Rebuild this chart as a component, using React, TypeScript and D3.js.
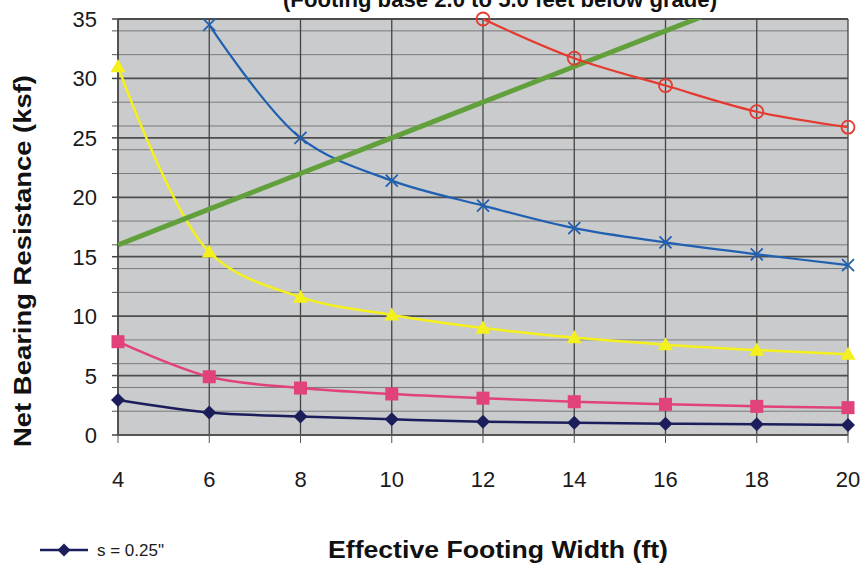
import React from "react";
import * as d3 from "d3";

const widths = [4, 6, 8, 10, 12, 14, 16, 18, 20];
const s025 = [2.95, 1.9, 1.55, 1.32, 1.12, 1.04, 0.95, 0.9, 0.85];
const s050 = [7.85, 4.9, 3.95, 3.45, 3.1, 2.8, 2.58, 2.41, 2.3];
const s100 = [31.0, 15.4, 11.6, 10.1, 9.0, 8.2, 7.6, 7.15, 6.8];
const s200x = [6, 8, 10, 12, 14, 16, 18, 20];
const s200 = [34.5, 25.0, 21.4, 19.3, 17.4, 16.2, 15.2, 14.3];
const s400x = [12, 14, 16, 18, 20];
const s400 = [35.0, 31.7, 29.4, 27.2, 25.9];
const limitX = [4, 6, 8, 10, 12, 14, 16, 18, 20];
const limitY = [16, 19, 22, 25, 28, 31, 34, 37, 40];
const yMajor = [0, 5, 10, 15, 20, 25, 30, 35];
const yMinor = [2, 4, 6, 8, 12, 14, 16, 18, 22, 24, 26, 28, 32, 34];
const xTicks = [4, 6, 8, 10, 12, 14, 16, 18, 20];

const W = 867;
const H = 572;
const L = 118, R = 848, T = 19, B = 435;
const FONT = "'Liberation Sans', Arial, Helvetica, sans-serif";

export default function App() {
  const x = d3.scaleLinear().domain([4, 20]).range([L, R]);
  const y = d3.scaleLinear().domain([0, 35]).range([B, T]);
  const smooth = d3
    .line<[number, number]>()
    .x((d) => x(d[0]))
    .y((d) => y(d[1]))
    .curve(d3.curveCatmullRom.alpha(0.5));
  const straight = d3
    .line<[number, number]>()
    .x((d) => x(d[0]))
    .y((d) => y(d[1]));
  const zip = (xs: number[], ys: number[]) =>
    xs.map((v, i) => [v, ys[i]] as [number, number]);

  const navy = "#1b1e5a";
  const pink = "#e2427c";
  const yellow = "#f4f01e";
  const blue = "#2160b0";
  const red = "#e53a2f";
  const green = "#62a03b";

  const diamond = (cx: number, cy: number, r: number) =>
    `M${cx},${cy - r}L${cx + r},${cy}L${cx},${cy + r}L${cx - r},${cy}Z`;
  const tri = (cx: number, cy: number, r: number) =>
    `M${cx},${cy - r}L${cx + r},${cy + r * 0.75}L${cx - r},${cy + r * 0.75}Z`;

  return (
    <svg width={W} height={H} style={{ display: "block", position: "absolute", left: 0, top: 0, background: "#ffffff" }}>
      <defs>
        <clipPath id="plotClip">
          <rect x={L - 10} y={T - 8} width={R - L + 20} height={B - T + 12} />
        </clipPath>
        <clipPath id="greenClip">
          <rect x={L} y={T} width={R - L} height={B - T} />
        </clipPath>
      </defs>
      {/* title, cut off at top */}
      <text x={283} y={7} fontFamily={FONT} fontWeight="bold" fontSize={22} fill="#111"
        textLength={434} lengthAdjust="spacingAndGlyphs">
        (Footing base 2.0 to 5.0 feet below grade)
      </text>
      {/* plot background */}
      <rect x={L} y={T} width={R - L} height={B - T} fill="#c9cbcd" />
      {/* minor gridlines */}
      {yMinor.map((v) => (
        <g key={"mn" + v}>
          <line x1={L} x2={R} y1={y(v)} y2={y(v)} stroke="#7a7a7a" strokeWidth={1} />
          <line x1={L - 6} x2={L} y1={y(v)} y2={y(v)} stroke="#555" strokeWidth={1} />
        </g>
      ))}
      {/* major gridlines */}
      {yMajor.map((v) => (
        <g key={"mj" + v}>
          <line x1={L} x2={R} y1={y(v)} y2={y(v)} stroke="#4d4d4d" strokeWidth={1.8} />
          <line x1={L - 6} x2={L} y1={y(v)} y2={y(v)} stroke="#444" strokeWidth={1.5} />
          <text x={97} y={y(v) + 8} textAnchor="end" fontFamily={FONT} fontSize={22} fill="#1a1a1a">
            {v}
          </text>
        </g>
      ))}
      {/* vertical gridlines */}
      {xTicks.map((v) => (
        <g key={"x" + v}>
          <line x1={x(v)} x2={x(v)} y1={T} y2={B} stroke="#444" strokeWidth={1.3} />
          <line x1={x(v)} x2={x(v)} y1={B} y2={B + 8} stroke="#555" strokeWidth={1} />
          <text x={x(v)} y={487} textAnchor="middle" fontFamily={FONT} fontSize={22} fill="#1a1a1a">
            {v}
          </text>
        </g>
      ))}
      {/* axes */}
      <line x1={L} x2={L} y1={T} y2={B} stroke="#444" strokeWidth={1.5} />
      <line x1={L} x2={R} y1={B} y2={B} stroke="#555" strokeWidth={2.2} />

      <g clipPath="url(#plotClip)">
        {/* s = 0.25 */}
        <path d={smooth(zip(widths, s025)) || ""} fill="none" stroke={navy} strokeWidth={2.5} />
        {widths.map((v, i) => (
          <path key={"a" + i} d={diamond(x(v), y(s025[i]), 7)} fill={navy} />
        ))}
        {/* s = 0.5 */}
        <path d={smooth(zip(widths, s050)) || ""} fill="none" stroke={pink} strokeWidth={2.5} />
        {widths.map((v, i) => (
          <rect key={"b" + i} x={x(v) - 6.5} y={y(s050[i]) - 6.5} width={13} height={13} fill={pink} />
        ))}
        {/* s = 1.0 */}
        <path d={smooth(zip(widths, s100)) || ""} fill="none" stroke={yellow} strokeWidth={2.5} />
        {widths.map((v, i) => (
          <path key={"c" + i} d={tri(x(v), y(s100[i]), 7.5)} fill={yellow} />
        ))}
        {/* s = 2.0 */}
        <path d={smooth(zip(s200x, s200)) || ""} fill="none" stroke={blue} strokeWidth={2.2} />
        {s200x.map((v, i) => (
          <g key={"d" + i} stroke={blue} strokeWidth={1.8}>
            <line x1={x(v) - 6} x2={x(v) + 6} y1={y(s200[i]) - 6} y2={y(s200[i]) + 6} />
            <line x1={x(v) - 6} x2={x(v) + 6} y1={y(s200[i]) + 6} y2={y(s200[i]) - 6} />
          </g>
        ))}
      </g>
      {/* limit line */}
      <g clipPath="url(#greenClip)">
        <path d={straight(zip(limitX, limitY)) || ""} fill="none" stroke={green} strokeWidth={5} />
      </g>
      <g clipPath="url(#plotClip)">
        {/* s = 4.0 */}
        <path d={smooth(zip(s400x, s400)) || ""} fill="none" stroke={red} strokeWidth={2.2} />
        {s400x.map((v, i) => (
          <circle key={"e" + i} cx={x(v)} cy={y(s400[i])} r={6.5} fill="none" stroke={red} strokeWidth={1.8} />
        ))}
      </g>

      {/* axis titles */}
      <text x={498} y={558} textAnchor="middle" fontFamily={FONT} fontWeight="bold" fontSize={23} fill="#111"
        textLength={340} lengthAdjust="spacingAndGlyphs">
        Effective Footing Width (ft)
      </text>
      <text
        transform={`translate(31,261) rotate(-90)`}
        textAnchor="middle"
        fontFamily={FONT}
        fontWeight="bold"
        fontSize={23}
        fill="#111"
        textLength={372}
        lengthAdjust="spacingAndGlyphs"
      >
        Net Bearing Resistance (ksf)
      </text>

      {/* legend (first entry visible) */}
      <line x1={40} x2={88} y1={550} y2={550} stroke={navy} strokeWidth={2.5} />
      <path d={diamond(64, 550, 6.5)} fill={navy} />
      <text x={97} y={556} fontFamily={FONT} fontSize={17} fill="#1a1a1a">
        s = 0.25"
      </text>
    </svg>
  );
}
